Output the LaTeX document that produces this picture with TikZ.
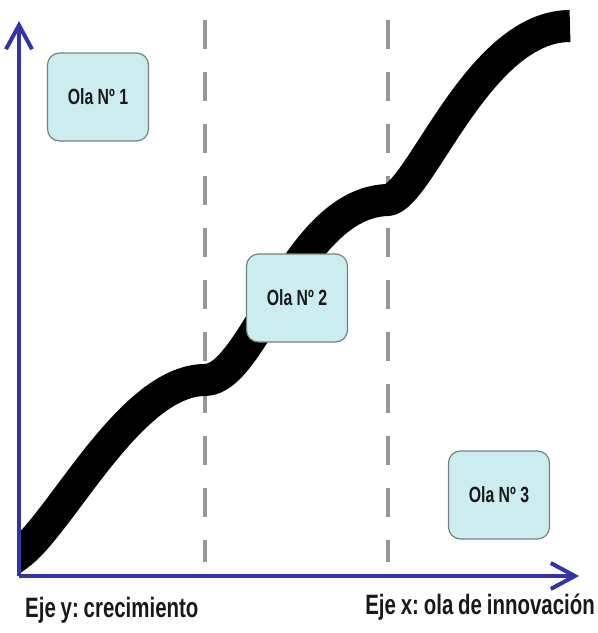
\documentclass[tikz,border=0pt]{standalone}
\usepackage{fontspec}
\setmainfont{Liberation Sans}[FakeStretch=0.73,WordSpace=0.85]
\newfontfamily\olafuente{Liberation Sans}[FakeStretch=0.72]
\usetikzlibrary{arrows.meta}
\frenchspacing

\definecolor{ejeazul}{RGB}{52,52,168}
\definecolor{olafondo}{RGB}{204,237,240}
\definecolor{olaborde}{RGB}{118,128,128}
\definecolor{guiagris}{RGB}{150,150,150}
\definecolor{textogris}{RGB}{25,25,25}

\tikzset{
  ola/.style={draw=olaborde,fill=olafondo,line width=1.2pt,rounded corners=12pt,
    minimum width=101pt,minimum height=88pt,text=textogris,
    font=\olafuente\fontsize{22}{26}\selectfont\bfseries},
  eje/.style={ejeazul,line width=4pt,-{Straight Barb[length=24pt,width=26pt]}},
  guia/.style={guiagris,line width=4pt,dash pattern=on 29pt off 23pt},
  rotulo/.style={font=\fontsize{28}{32}\selectfont\bfseries,inner sep=0pt,text=textogris}
}

\begin{document}
\begin{tikzpicture}[x=1pt,y=-1pt]
\useasboundingbox (0,0) rectangle (598,633);

\coordinate (origen) at (19,576);
\coordinate (ytope) at (19,21);
\coordinate (xtope) at (579,576);

% lineas guia
\coordinate (g1a) at (205,20);
\coordinate (g1b) at (205,562);
\coordinate (g2a) at (388,20);
\coordinate (g2b) at (388,562);
\draw [guia] (g1a) -- (g1b);
\draw [guia] (g2a) -- (g2b);

% curva de olas
\begin{scope}
\clip (19,0) rectangle (598,633);
\draw [line width=32pt,line join=round] (0,568) -- (18,555)
  .. controls (60,525) and (130,380) .. (205,380)
  .. controls (255,380) and (295,202) .. (388,200)
  .. controls (420,196) and (478,26) .. (570,26);
\end{scope}

\node [ola] (ola1) at (98,97) {Ola Nº 1};
\node [ola] (ola2) at (297,298) {Ola Nº 2};
\node [ola] (ola3) at (499,495) {Ola Nº 3};

% ejes
\draw [eje] (origen) -- (ytope);
\draw [eje] (origen) -- (xtope);

\node [rotulo,anchor=west] (ejey) at (25,610) {Eje y: crecimiento};
\node [rotulo,anchor=east] (ejex) at (595,607) {Eje x: ola de innovación};
\end{tikzpicture}
\end{document}
